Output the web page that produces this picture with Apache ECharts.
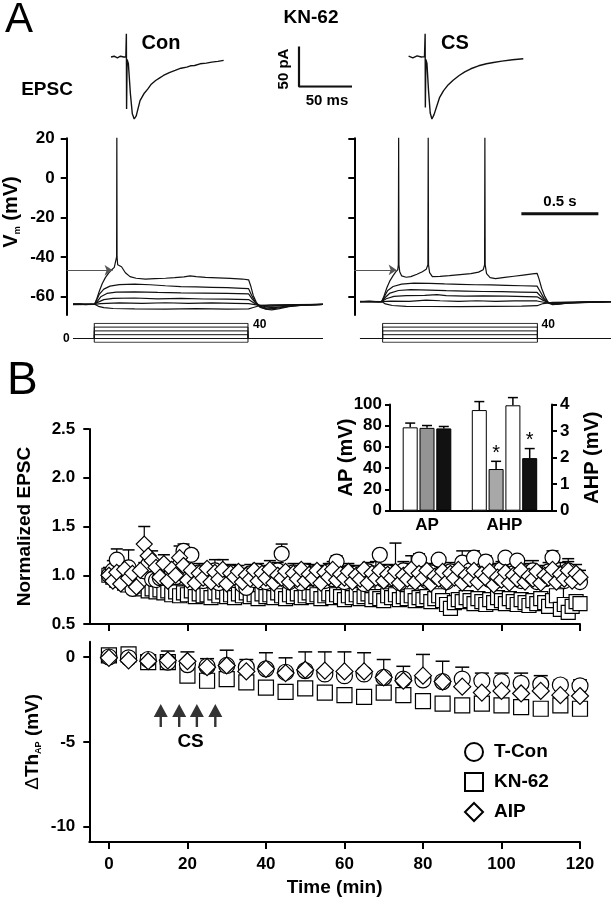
<!DOCTYPE html>
<html><head><meta charset="utf-8">
<script src="https://cdn.jsdelivr.net/npm/echarts@6/dist/echarts.min.js"></script>
<style>html,body{margin:0;padding:0;background:#fff}#c{width:611px;height:899px}</style>
</head><body><div id="c"></div>
<script>
// ---------- Panel A: EPSC traces (time ms, current pA) ----------
const epscCon = [[0,0],[3,1],[6,-1],[9,1],[12,0],[14,0],[14.5,29],[14.7,-65],[15.2,-3],[16.4,-8.5],[18.3,-46],[20.1,-71],[21.9,-77.5],[23.8,-73.5],[27.4,-54.6],[31,-46],[34.8,-39.9],[38,-34],[42.1,-29.4],[46,-26],[49.5,-23.1],[55,-19.5],[60.5,-16.8],[66,-14],[71.5,-12.6],[75,-11],[78.9,-10.6],[84,-8.5],[89.9,-7.6],[95,-6.4],[100.8,-5.5],[106.3,-4.2]];
const epscCS = [[0,1],[4,-1],[8,1.5],[12,0],[15,0.5],[15.6,29],[15.8,-63],[16.3,-3],[17.3,-8],[18.8,-42],[20.4,-70],[22,-77.5],[24,-72],[29.3,-50.4],[33,-42],[36.7,-35.7],[42,-29],[47.7,-23.1],[53,-18.5],[58.7,-14.7],[66,-11],[73.4,-8.4],[80,-6.8],[88,-5.1],[98,-3.5],[108.2,-2.2]];
const epscScaleBar = [[0,50],[0,0],[50,0]];      // 50 pA / 50 ms

// ---------- Panel A: membrane potential traces (time ms, mV) ----------
const vmL1 = [[0,-64],[40,-63.7],[80,-64.2],[120,-63.9],[140,-64],[155,-61],[170,-57.5],[190,-53.5],[210,-50.5],[230,-48.3],[250,-46.6],[268,-45.3],[280,-44.8],[283,-40],[284.5,25.8],[286,-40],[290,-44],[300,-43.6],[315,-45],[340,-48],[370,-50],[410,-50.8],[470,-51.2],[530,-51],[600,-50.8],[660,-50.5],[720,-50.1],[760,-49.6],[800,-50],[860,-50.4],[940,-50.6],[1020,-50.9],[1100,-51.2],[1140,-51.6],[1155,-55],[1170,-59.5],[1190,-63],[1215,-65.3],[1250,-66.5],[1290,-66.8],[1340,-66.2],[1400,-65.2],[1470,-64.6],[1550,-64.3],[1623,-64.1]];
const vmL2 = [[0,-63.8],[140,-64],[150,-62.5],[170,-59],[200,-56.3],[240,-54.8],[300,-54],[400,-53.8],[500,-54.1],[600,-54.6],[700,-55],[800,-55.2],[900,-55.4],[1000,-55.6],[1100,-55.9],[1140,-56.1],[1160,-59.5],[1185,-63],[1215,-65.5],[1260,-66.3],[1320,-66],[1400,-65],[1500,-64.4],[1623,-64]];
const vmL3 = [[0,-64.2],[140,-64],[155,-62.8],[180,-60.2],[220,-58.5],[280,-57.8],[400,-57.7],[550,-58],[700,-58.2],[850,-58.3],[1000,-58.5],[1140,-58.7],[1165,-61.5],[1200,-64.5],[1250,-65.8],[1320,-65.5],[1420,-64.6],[1623,-64]];
const vmL4 = [[0,-64],[140,-64],[160,-63],[200,-61.6],[260,-61],[400,-60.8],[550,-61.2],[700,-61],[850,-61.3],[1000,-61.4],[1140,-61.6],[1180,-63.6],[1240,-65.1],[1330,-64.8],[1450,-64.3],[1623,-64]];
const vmL5 = [[0,-63.9],[140,-64],[180,-63.6],[300,-63.3],[450,-63.5],[600,-63.2],[750,-63.5],[900,-63.3],[1050,-63.5],[1140,-63.6],[1200,-64.4],[1280,-64.8],[1400,-64.4],[1623,-64]];
const vmL6 = [[0,-64.1],[140,-64],[165,-65],[200,-65.7],[260,-66.1],[400,-66.3],[600,-66.4],[800,-66.2],[1000,-66.4],[1140,-66.3],[1170,-65.6],[1210,-64.7],[1280,-64.3],[1623,-64]];
const vmR1 = [[0,-62.7],[60,-62.4],[120,-62.8],[141,-62.6],[155,-60],[175,-55.5],[195,-52],[215,-49.5],[232,-47.6],[245,-46.6],[249,-44],[251,22.4],[253,-44],[258,-47.5],[270,-49.6],[300,-50.3],[330,-50],[370,-48.8],[405,-47.5],[430,-46.3],[441,-44],[443,22.4],[445,-44],[452,-48],[470,-50],[520,-49.9],[580,-49.5],[650,-49],[720,-48.5],[770,-47.7],[800,-46.5],[809,-44],[811,22.4],[813,-44],[822,-48.5],[845,-50.5],[880,-51],[940,-50.4],[1000,-49.8],[1060,-49.2],[1120,-48.6],[1150,-48.3],[1162,-51],[1180,-56],[1200,-60],[1222,-63],[1250,-64.2],[1290,-63.9],[1360,-63.2],[1450,-62.9],[1540,-62.7],[1630,-62.6]];
const vmR2 = [[0,-62.6],[141,-62.6],[155,-60.5],[180,-57],[215,-55],[270,-53.8],[350,-53.3],[450,-53.4],[550,-53.7],[650,-53.9],[750,-54.1],[850,-54.2],[950,-54.4],[1050,-54.6],[1150,-54.8],[1170,-57.5],[1195,-61],[1225,-63.5],[1270,-64],[1350,-63.4],[1630,-62.6]];
const vmR3 = [[0,-62.5],[141,-62.6],[160,-60.8],[195,-58.3],[250,-57],[330,-56.6],[450,-56.8],[560,-57.1],[680,-57.3],[800,-57.5],[920,-57.6],[1040,-57.8],[1150,-58],[1180,-60.5],[1215,-63],[1260,-63.8],[1350,-63.3],[1630,-62.6]];
const vmR4 = [[0,-62.7],[141,-62.6],[170,-61.2],[220,-60],[300,-59.6],[420,-59.5],[500,-59.1],[560,-59.6],[680,-59.8],[800,-59.7],[950,-59.9],[1080,-60.1],[1150,-60.2],[1190,-62],[1240,-63.5],[1320,-63.3],[1630,-62.6]];
const vmR5 = [[0,-62.6],[141,-62.6],[200,-62.4],[320,-62.5],[430,-61.9],[520,-62.2],[640,-62.5],[760,-62.2],[880,-62.5],[1000,-62.3],[1150,-62.3],[1210,-63.2],[1300,-63.1],[1630,-62.6]];
const vmR6 = [[0,-62.6],[141,-62.6],[165,-63.8],[210,-64.6],[300,-65],[450,-65.1],[650,-65.2],[850,-65],[1050,-64.9],[1150,-64.7],[1190,-63.6],[1250,-63],[1630,-62.6]];
const vmTicks = [-60, -40, -20, 0, 20];
const thresholdL = [[-41,-46.8],[257,-46.8]];   // arrow to AP threshold
const thresholdR = [[-37,-46.6],[238,-46.6]];
const scaleBarVm = [[1048,-18.2],[1548,-18.2]]; // 0.5 s

// current command steps (pA)
const cmdLevels = [-10, 0, 10, 20, 30, 40];
const cmdLeftTimes = {start:0, on:138, off:1136, end:1623};
const cmdRightTimes = {start:0, on:147, off:1152, end:1630};

// ---------- Panel B: normalized EPSC (every min) ----------
const epscTime = [0,1,2,3,4,5,6,7,8,9,10,11,12,13,14,15,16,17,18,19,20,21,22,23,24,25,26,27,28,29,30,31,32,33,34,35,36,37,38,39,40,41,42,43,44,45,46,47,48,49,50,51,52,53,54,55,56,57,58,59,60,61,62,63,64,65,66,67,68,69,70,71,72,73,74,75,76,77,78,79,80,81,82,83,84,85,86,87,88,89,90,91,92,93,94,95,96,97,98,99,100,101,102,103,104,105,106,107,108,109,110,111,112,113,114,115,116,117,118,119,120];
const epscTCon = [
1.00,1.05,1.16,1.02,0.95,1.08,0.86,1.00,0.95,1.04,
1.11,0.96,0.95,0.97,1.02,0.96,1.05,0.98,1.10,1.25,
1.00,1.21,0.97,1.03,0.94,1.00,0.96,1.05,0.92,1.00,
0.98,1.03,0.95,1.00,0.90,0.87,1.02,0.95,1.04,0.97,
0.93,1.01,0.98,1.05,1.22,0.97,0.93,1.03,0.99,0.92,
1.04,0.97,1.02,0.95,1.00,0.94,1.04,0.96,1.14,0.99,
0.93,1.03,0.97,1.02,0.94,0.91,1.04,0.98,1.02,1.21,
0.95,1.03,0.96,1.00,0.92,1.05,0.97,1.02,0.95,1.16,
0.99,0.94,1.03,0.97,1.16,1.00,0.93,1.04,0.98,1.02,
1.13,0.96,1.05,1.18,0.97,1.02,1.14,0.95,1.03,0.98,
1.06,1.18,0.97,1.02,1.15,0.94,1.03,0.98,1.05,0.93,
1.00,0.96,1.04,1.18,0.97,1.02,0.94,1.05,0.98,1.00,
0.93];
const epscTConErr = [
0.08,0.10,0.11,0.09,0.12,0.18,0.10,0.08,0.11,0.09,
0.08,0.12,0.10,0.09,0.11,0.10,0.08,0.12,0.09,0.07,
0.10,0.05,0.11,0.09,0.12,0.10,0.08,0.11,0.14,0.09,
0.10,0.08,0.12,0.10,0.16,0.18,0.09,0.11,0.08,0.10,
0.12,0.09,0.11,0.08,0.10,0.12,0.14,0.09,0.10,0.15,
0.08,0.11,0.09,0.12,0.10,0.13,0.08,0.11,0.06,0.10,
0.14,0.09,0.12,0.08,0.11,0.15,0.09,0.10,0.12,0.04,
0.10,0.08,0.12,0.10,0.14,0.09,0.11,0.10,0.12,0.06,
0.10,0.13,0.09,0.11,0.05,0.10,0.14,0.09,0.11,0.08,
0.12,0.10,0.09,0.07,0.11,0.10,0.06,0.12,0.09,0.10,
0.08,0.04,0.11,0.10,0.05,0.12,0.09,0.11,0.10,0.13,
0.10,0.12,0.09,0.07,0.10,0.11,0.13,0.09,0.10,0.11,
0.12];
const epscKN = [
1.00,0.98,0.95,0.97,0.92,0.90,0.93,0.88,0.86,0.89,
0.84,0.86,0.83,0.85,0.82,0.84,0.80,0.83,0.79,0.82,
0.80,0.84,0.78,0.81,0.79,0.80,0.77,0.82,0.79,0.83,
0.78,0.80,0.77,0.81,0.79,0.82,0.78,0.80,0.76,0.81,
0.78,0.80,0.77,0.82,0.79,0.76,0.80,0.78,0.81,0.77,
0.79,0.82,0.78,0.80,0.76,0.79,0.81,0.77,0.80,0.78,
0.75,0.79,0.77,0.80,0.76,0.78,0.81,0.75,0.78,0.76,
0.74,0.79,0.77,0.80,0.75,0.78,0.76,0.79,0.74,0.77,
0.75,0.78,0.73,0.76,0.79,0.74,0.70,0.66,0.72,0.75,
0.73,0.77,0.74,0.71,0.76,0.73,0.70,0.75,0.72,0.77,
0.74,0.71,0.76,0.73,0.70,0.75,0.72,0.69,0.74,0.71,
0.76,0.72,0.68,0.74,0.79,0.65,0.70,0.62,0.68,0.73,
0.71];
const epscAIP = [
1.00,0.94,1.03,0.91,1.06,0.97,1.02,0.88,1.05,1.32,
1.20,1.15,1.08,0.98,1.12,0.94,1.06,1.00,1.18,1.10,
0.95,1.05,0.92,1.02,0.97,1.07,0.93,1.03,0.96,1.06,
0.91,1.02,0.98,1.04,0.93,1.00,0.96,1.05,0.94,1.02,
0.97,1.06,0.92,1.00,0.97,1.04,0.93,1.02,0.96,1.06,
0.94,1.01,0.97,1.05,0.92,1.03,0.98,1.06,0.95,1.01,
0.97,1.04,0.93,1.00,0.96,1.06,0.92,1.02,0.97,1.05,
0.94,1.01,0.97,1.04,0.92,1.00,0.96,1.06,0.93,1.02,
0.97,1.05,0.91,0.99,0.96,1.04,0.93,1.02,0.97,1.06,
0.92,1.00,0.96,1.05,0.93,1.01,0.97,1.04,0.90,0.98,
0.95,1.03,0.92,1.00,0.96,1.05,0.93,0.99,0.96,1.04,
0.92,1.00,0.97,1.06,0.93,1.01,0.96,1.05,0.94,1.02,
0.98];
const epscAIPErr = [[9,0.18],[11,0.10],[14,0.09],[18,0.12],[29,0.10],[41,0.09],[57,0.08],[73,0.29],[77,0.14],[93,0.12],[105,0.10],[113,0.10],[117,0.12]];

// ---------- Panel B: threshold change (every 5 min) ----------
const thTime = [0,5,10,15,20,25,30,35,40,45,50,55,60,65,70,75,80,85,90,95,100,105,110,115,120];
const thTCon = [0,-0.05,-0.15,-0.3,-0.45,-0.55,-0.5,-0.6,-0.7,-0.9,-0.8,-1.0,-1.1,-1.0,-1.2,-1.3,-1.35,-1.45,-1.3,-1.4,-1.45,-1.55,-1.6,-1.65,-1.7];
const thKN = [0.1,0.15,-0.3,-0.3,-1.1,-1.4,-1.3,-1.5,-1.8,-2.05,-1.85,-2.1,-2.25,-2.35,-2.1,-2.25,-2.6,-2.75,-2.85,-2.75,-2.85,-2.95,-3.05,-2.85,-3.05];
const thAIP = [-0.05,-0.2,-0.25,-0.2,-0.25,-0.6,-0.5,-0.85,-0.7,-0.95,-0.75,-0.8,-0.85,-0.85,-1.2,-1.4,-1.1,-1.45,-1.75,-2.1,-2.0,-2.15,-2.0,-2.25,-2.3];
const thAIPErr = [0.1,0.1,0.15,0.55,0.55,0.5,0.9,0.7,0.95,0.9,1.05,1.1,1.15,1.1,1.05,0.85,1.25,1.2,1.15,1.15,1.05,1.2,0.9,0.9,0.95];
const csTimes = [13.2, 17.9, 22.4, 27.1];
const csArrowLevel = -3.45;

// ---------- Inset: AP amplitude and AHP ----------
const apCats = ['AP'];
const apVals = [78.5, 78, 77.5];
const apErr = [4, 2.2, 1.8];
const ahpCats = ['AHP'];
const ahpVals = [3.79, 1.57, 3.97, 1.98];
const ahpErr = [0.32, 0.29, 0.29, 0.36];
const ahpStar = [false, true, false, true];
const apColors = ['#ffffff', '#949494', '#111111'];
const ahpColors = ['#ffffff', '#a8a8a8', '#ffffff', '#111111'];

// ================================================================
const F = "'Liberation Sans', Arial, Helvetica, sans-serif";
const chart = echarts.init(document.getElementById('c'), null, {renderer:'canvas'});
const blk = '#000';
const hid = (g, min, max) => ({gridIndex:g, type:'value', min, max, show:false, splitLine:{show:false}});
const lab = (size) => ({fontFamily:F, fontWeight:'bold', fontSize:size, color:blk});

const grids = [
  {left:111, top:29, width:116.6, height:92},        //0 EPSC Con
  {left:408.6, top:29, width:116.6, height:92},      //1 EPSC CS
  {left:299, top:46.6, width:53, height:40},         //2 scale bar
  {left:66.7, top:138.3, width:256.3, height:176.7}, //3 Vm left
  {left:354.3, top:138.3, width:256.7, height:176.7},//4 Vm right
  {left:66.7, top:323.3, width:256.3, height:19},    //5 cmd left
  {left:354.3, top:323.3, width:256.7, height:19},   //6 cmd right
  {left:89.3, top:429, width:490.7, height:195},     //7 norm EPSC
  {left:89.3, top:641.7, width:490.7, height:200.3}, //8 threshold
  {left:390, top:404.5, width:74, height:106.2},     //9 AP
  {left:457, top:404.5, width:95, height:106.2}      //10 AHP
].map(g => Object.assign({outerBoundsMode:'none', containLabel:false}, g));

const tick20 = [0,20,40,60,80,100,120];
const xAxes = [
  hid(0,0,110), hid(1,0,110), hid(2,0,50),
  hid(3,-41,1623), hid(4,-37,1630), hid(5,-41,1623), hid(6,-37,1630),
  {gridIndex:7, type:'value', min:-5, max:120, splitLine:{show:false},
   axisLine:{show:true, onZero:false, lineStyle:{color:blk, width:2}},
   axisTick:{show:true, customValues:tick20, length:7, inside:false, lineStyle:{color:blk, width:2}},
   axisLabel:{show:false}},
  {gridIndex:8, type:'value', min:-5, max:120, splitLine:{show:false},
   axisLine:{show:true, onZero:false, lineStyle:{color:blk, width:2}},
   axisTick:{show:true, customValues:tick20, length:7, inside:false, lineStyle:{color:blk, width:2}},
   axisLabel:{show:true, customValues:tick20, margin:14, ...lab(17)},
   name:'Time (min)', nameLocation:'middle', nameGap:36, nameMoveOverlap:false, nameTextStyle:lab(19)},
  {gridIndex:9, type:'category', data:apCats, axisTick:{show:false},
   axisLine:{show:true, onZero:false, lineStyle:{color:blk, width:2}}, axisLabel:{margin:6, ...lab(17)}},
  {gridIndex:10, type:'category', data:ahpCats, axisTick:{show:false},
   axisLine:{show:true, onZero:false, lineStyle:{color:blk, width:2}}, axisLabel:{margin:6, ...lab(17)}}
];

const yAxes = [
  hid(0,-80,35), hid(1,-80,35), hid(2,0,50),
  {gridIndex:3, type:'value', min:-69.4, max:20, splitLine:{show:false},
   axisLine:{show:true, onZero:false, lineStyle:{color:blk, width:2}},
   axisTick:{show:true, customValues:vmTicks, length:6, inside:false, lineStyle:{color:blk, width:2}},
   axisLabel:{show:true, customValues:vmTicks, margin:12, ...lab(17)}},
  {gridIndex:4, type:'value', min:-69.4, max:20, splitLine:{show:false},
   axisLine:{show:true, onZero:false, lineStyle:{color:blk, width:2}},
   axisTick:{show:true, customValues:vmTicks, length:6, inside:false, lineStyle:{color:blk, width:2}},
   axisLabel:{show:false}},
  {gridIndex:5, type:'value', min:-10, max:40, splitLine:{show:false}, axisLine:{show:false}, axisTick:{show:false},
   axisLabel:{show:true, customValues:[0], margin:-3, ...lab(12)}},
  hid(6,-10,40),
  {gridIndex:7, type:'value', min:0.5, max:2.5, interval:0.5, splitLine:{show:false},
   axisLine:{show:true, onZero:false, lineStyle:{color:blk, width:2}},
   axisTick:{show:true, length:6, inside:false, lineStyle:{color:blk, width:2}},
   axisLabel:{show:true, margin:14, formatter:v=>v.toFixed(1), ...lab(17)},
   name:'Normalized EPSC', nameLocation:'middle', nameRotate:90, nameGap:55, nameMoveOverlap:false, nameTextStyle:lab(19)},
  {gridIndex:8, type:'value', min:-10.9, max:0.9, splitLine:{show:false},
   axisLine:{show:true, onZero:false, lineStyle:{color:blk, width:2}},
   axisTick:{show:true, customValues:[-10,-5,0], length:6, inside:false, lineStyle:{color:blk, width:2}},
   axisLabel:{show:true, customValues:[-10,-5,0], margin:14, ...lab(17)},
   name:'{d|Δ}{v|Th}{s|AP}{v| (mV)}', nameLocation:'middle', nameRotate:90, nameGap:46, nameMoveOverlap:false,
   nameTextStyle:{rich:{d:{fontFamily:F, fontSize:19, color:blk, lineHeight:21}, v:{...lab(19), lineHeight:21}, s:{...lab(9), lineHeight:9, verticalAlign:'bottom'}}}},
  {gridIndex:9, type:'value', min:0, max:100, interval:20, splitLine:{show:false},
   axisLine:{show:true, onZero:false, lineStyle:{color:blk, width:2}},
   axisTick:{show:true, length:5, inside:false, lineStyle:{color:blk, width:2}},
   axisLabel:{show:true, margin:8, ...lab(17)},
   name:'AP (mV)', nameLocation:'middle', nameRotate:90, nameGap:34, nameMoveOverlap:false, nameTextStyle:lab(20)},
  {gridIndex:10, type:'value', position:'right', min:0, max:4, interval:1, splitLine:{show:false},
   axisLine:{show:true, onZero:false, lineStyle:{color:blk, width:2}},
   axisTick:{show:true, length:5, inside:false, lineStyle:{color:blk, width:2}},
   axisLabel:{show:true, margin:8, ...lab(17)},
   name:'AHP (mV)', nameLocation:'middle', nameRotate:90, nameGap:30, nameMoveOverlap:false, nameTextStyle:lab(20)}
];

const series = [];
const traceLine = (xi, data, w) => ({type:'line', xAxisIndex:xi, yAxisIndex:xi, data, showSymbol:false, symbol:'none',
  lineStyle:{color:'#111', width:w || 1.2}, silent:true, z:2});

series.push(traceLine(0, epscCon, 1.4));
series.push(traceLine(1, epscCS, 1.4));
series.push(traceLine(2, epscScaleBar, 2.2));
[vmL6, vmL5, vmL4, vmL3, vmL2, vmL1].forEach(d => series.push(traceLine(3, d, 1.2)));
[vmR6, vmR5, vmR4, vmR3, vmR2, vmR1].forEach(d => series.push(traceLine(4, d, 1.2)));
const arrowSeries = (xi, pts) => ({type:'line', xAxisIndex:xi, yAxisIndex:xi, data:[], silent:true,
  markLine:{silent:true, symbol:['none','arrow'], symbolSize:8, animation:false, label:{show:false},
    lineStyle:{color:'#555', width:1, type:'solid'},
    data:[[{coord:pts[0]},{coord:pts[1]}]]}});
series.push(arrowSeries(3, thresholdL));
series.push(arrowSeries(4, thresholdR));
series.push(traceLine(4, scaleBarVm, 3));
const cmdSeries = (xi, tm) => cmdLevels.map(L => traceLine(xi,
  [[tm.start,0],[tm.on,0],[tm.on,L],[tm.off,L],[tm.off,0],[tm.end,0]], 1));
series.push(...cmdSeries(5, cmdLeftTimes));
series.push(...cmdSeries(6, cmdRightTimes));

const errRender = (capHalf) => (params, api) => {
  const x = api.value(0), v = api.value(1), e = api.value(2);
  const p0 = api.coord([x, v]), p1 = api.coord([x, v + e]);
  return {type:'group', children:[
    {type:'line', shape:{x1:p0[0], y1:p0[1], x2:p1[0], y2:p1[1]}, style:{stroke:blk, lineWidth:1.2}},
    {type:'line', shape:{x1:p1[0]-capHalf, y1:p1[1], x2:p1[0]+capHalf, y2:p1[1]}, style:{stroke:blk, lineWidth:1.5}}
  ]};
};
const zip = (xs, ys) => xs.map((x, i) => [x, ys[i]]);
const mk = {'T-Con':'circle', 'KN-62':'rect', 'AIP':'diamond'};
const scat = (xi, name, data, size) => ({type:'scatter', name, xAxisIndex:xi, yAxisIndex:xi, data,
  symbol:mk[name], symbolSize:size, itemStyle:{color:'#fff', borderColor:blk, borderWidth:1.2, opacity:1}, z:3, silent:true});

// top plot
series.push({type:'custom', xAxisIndex:7, yAxisIndex:7, renderItem:errRender(6), z:2, silent:true,
  data: epscTime.map((t,i)=>[t, epscTCon[i], epscTConErr[i]]), encode:{x:0, y:1}});
series.push({type:'custom', xAxisIndex:7, yAxisIndex:7, renderItem:errRender(6), z:2, silent:true,
  data: epscAIPErr.map(p=>[p[0], epscAIP[p[0]], p[1]]), encode:{x:0, y:1}});
series.push(scat(7, 'KN-62', zip(epscTime, epscKN), 14));
series.push(scat(7, 'T-Con', zip(epscTime, epscTCon), 15));
series.push(scat(7, 'AIP', zip(epscTime, epscAIP), 16));

// bottom plot
series.push({type:'custom', xAxisIndex:8, yAxisIndex:8, renderItem:errRender(7), z:2, silent:true,
  data: thTime.map((t,i)=>[t, thAIP[i], thAIPErr[i]]), encode:{x:0, y:1}});
series.push(scat(8, 'KN-62', zip(thTime, thKN), 15));
series.push(scat(8, 'T-Con', zip(thTime, thTCon), 16));
series.push(scat(8, 'AIP', zip(thTime, thAIP), 17));
series.push({type:'scatter', xAxisIndex:8, yAxisIndex:8, silent:true, z:4,
  data: csTimes.map(t=>[t, csArrowLevel]),
  symbol:'path://M7,0L14,13L8.2,13L8.2,23L5.8,23L5.8,13L0,13Z', symbolSize:[14,23], symbolKeepAspect:false,
  itemStyle:{color:blk}});

// inset bars
const bw = 15, gapPx = 1.8;
apVals.forEach((v,i)=>series.push({type:'bar', name:'ap'+i, xAxisIndex:9, yAxisIndex:9, data:[v], barWidth:bw, barGap:'12%',
  itemStyle:{color:apColors[i], borderColor:blk, borderWidth:1}, silent:true, z:2}));
ahpVals.forEach((v,i)=>series.push({type:'bar', name:'ahp'+i, xAxisIndex:10, yAxisIndex:10, data:[v], barWidth:bw, barGap:'12%',
  itemStyle:{color:ahpColors[i], borderColor:blk, borderWidth:1}, silent:true, z:2}));
const barErrRender = (n, stars) => (params, api) => {
  const c = api.value(0), v = api.value(1), e = api.value(2), k = api.value(3);
  const off = (k - (n-1)/2) * (bw + gapPx);
  const p0 = api.coord([c, v]), p1 = api.coord([c, v + e]);
  const x = p0[0] + off;
  const ch = [
    {type:'line', shape:{x1:x, y1:p0[1], x2:x, y2:p1[1]}, style:{stroke:blk, lineWidth:1.5}},
    {type:'line', shape:{x1:x-5, y1:p1[1], x2:x+5, y2:p1[1]}, style:{stroke:blk, lineWidth:1.5}}
  ];
  if (stars && stars[k]) ch.push({type:'text', x:x, y:p1[1]-8,
    style:{text:'*', font:'normal 20px ' + F, fill:blk, textAlign:'center', textVerticalAlign:'middle'}});
  return {type:'group', children:ch};
};
series.push({type:'custom', xAxisIndex:9, yAxisIndex:9, renderItem:barErrRender(3), z:3, silent:true,
  data: apVals.map((v,i)=>[0, v, apErr[i], i]), encode:{x:0, y:1}});
series.push({type:'custom', xAxisIndex:10, yAxisIndex:10, renderItem:barErrRender(4, ahpStar), z:3, silent:true,
  data: ahpVals.map((v,i)=>[0, v, ahpErr[i], i]), encode:{x:0, y:1}});

const txt = (text, x, y, size, opt) => Object.assign({type:'text', x, y, silent:true,
  style:{text, font:(opt && opt.weight || 'bold') + ' ' + size + 'px ' + F, fill:blk,
    textAlign:(opt && opt.align) || 'center', textVerticalAlign:'middle'}}, opt && opt.rotation ? {rotation:opt.rotation} : {});

chart.setOption({
  animation:false,
  backgroundColor:'#fff',
  grid:grids, xAxis:xAxes, yAxis:yAxes, series,
  legend:{data:['T-Con','KN-62','AIP'], orient:'vertical', left:459, top:737, itemWidth:18, itemHeight:18, itemGap:10,
    selectedMode:false, textStyle:{...lab(19), padding:[0,0,0,6]}},
  graphic:[
    txt('A', 5, 20, 42, {weight:'normal', align:'left'}),
    txt('B', 7, 381, 46, {weight:'normal', align:'left'}),
    txt('KN-62', 311, 18, 19),
    txt('Con', 161, 43, 20),
    txt('CS', 455, 43, 20),
    txt('EPSC', 47, 90, 19),
    txt('50 pA', 284, 69, 15, {rotation:Math.PI/2}),
    txt('50 ms', 327, 101, 15),
    txt('0.5 s', 560, 202, 15),
    txt('40', 253, 325, 12, {align:'left'}),
    txt('40', 541.5, 325, 12, {align:'left'}),
    txt('CS', 190.6, 742, 19),
    {type:'text', x:11, y:212, rotation:Math.PI/2, silent:true,
     style:{text:'{v|V}{s|m}{v| (mV)}', textAlign:'center', textVerticalAlign:'middle',
       rich:{v:{...lab(20), fill:blk, lineHeight:22}, s:{...lab(9), fill:blk, lineHeight:9, verticalAlign:'bottom'}}}}
  ]
});
</script></body></html>
